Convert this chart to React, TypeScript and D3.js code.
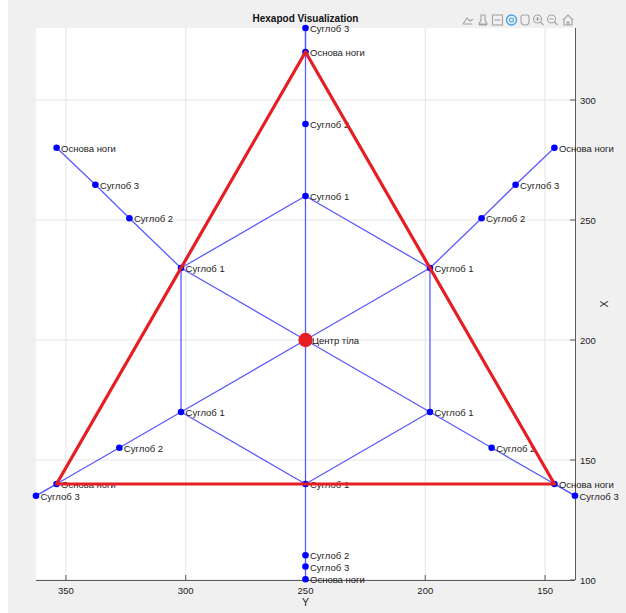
import React from 'react';
import * as d3 from 'd3';

const W = 626;
const H = 613;
const box = { left: 36, right: 575, top: 28, bottom: 580 };

// Horizontal axis shows body Y (reversed), vertical axis shows body X
const yLimits = [362.5, 137.5];
const xLimits = [100, 330];
const yTicks = [350, 300, 250, 200, 150];
const xTicks = [100, 150, 200, 250, 300];

const titleText = 'Hexapod Visualization';
const centerLabel = 'Центр тіла';
const bodyCenterY = 250;
const bodyCenterX = 200;

// Six legs: top, upper right, lower right, bottom, lower left, upper left
const joint1Y = [250, 198.04, 198.04, 250, 301.96, 301.96];
const joint1X = [260, 230, 170, 140, 170, 230];
const joint2Y = [250, 176.5, 172.3, 250, 327.7, 323.5];
const joint2X = [290, 250.7, 155.1, 110.3, 155.1, 250.7];
const joint3Y = [250, 162.3, 137.5, 250, 362.5, 337.7];
const joint3X = [330, 264.7, 135.1, 105.6, 135.1, 264.7];
const baseY = [250, 146.1, 146.08, 250, 353.92, 353.9];
const baseX = [320, 280.1, 140, 100.3, 140, 280.1];

const joint1Label = 'Суглоб 1';
const joint2Label = 'Суглоб 2';
const joint3Label = 'Суглоб 3';
const baseLabel = 'Основа ноги';

// Support triangle through the bases of legs 0, 2 and 4
const triangleLegs = [0, 2, 4];

const FONT = '"Liberation Sans", Arial, Helvetica, sans-serif';
const BLUE_LINE = '#5a5aff';
const BLUE = '#0000ff';
const RED = '#e41e22';
const AXIS = '#5a5a5a';
const GRID = '#e4e4e4';
const TEXT = '#222222';

type Pt = [number, number];

function ToolbarIcons() {
  const c = '#a3a3a3';
  const cy = 20;
  const xs = [468, 483, 497.5, 511.5, 525, 538.5, 552.5, 568];
  return (
    <g fill="none" stroke={c} strokeWidth={1.1}>
      {/* brush */}
      <path d={`M${xs[0] - 5},${cy + 4} L${xs[0] - 1},${cy - 2} L${xs[0] + 2},${cy + 1} L${xs[0] + 5},${cy - 1} M${xs[0] - 5},${cy + 4} L${xs[0] + 4},${cy + 4}`} />
      {/* data tip */}
      <path d={`M${xs[1] - 2},${cy - 5} L${xs[1] + 2},${cy - 5} L${xs[1] + 2},${cy} L${xs[1] + 4},${cy + 4} L${xs[1] - 4},${cy + 4} L${xs[1] - 2},${cy} Z M${xs[1] - 4},${cy + 5} L${xs[1] + 4},${cy + 5}`} />
      {/* pan-to-fit box */}
      <rect x={xs[2] - 5} y={cy - 5} width={10} height={10} />
      <path d={`M${xs[2] - 3},${cy} L${xs[2] + 3},${cy}`} />
      {/* rotate (active) */}
      <circle cx={xs[3]} cy={cy} r={5} stroke="#4ba3e6" strokeWidth={1.4} />
      <circle cx={xs[3]} cy={cy} r={2} stroke="#4ba3e6" />
      {/* hand */}
      <path d={`M${xs[4] - 4},${cy + 1} L${xs[4] - 4},${cy - 3} Q${xs[4] - 4},${cy - 5} ${xs[4] - 2},${cy - 5} L${xs[4] + 2},${cy - 5} Q${xs[4] + 4},${cy - 5} ${xs[4] + 4},${cy - 3} L${xs[4] + 4},${cy + 2} Q${xs[4] + 4},${cy + 5} ${xs[4]},${cy + 5} Q${xs[4] - 4},${cy + 5} ${xs[4] - 4},${cy + 1} Z`} />
      {/* zoom in */}
      <circle cx={xs[5] - 1} cy={cy - 1} r={4} />
      <path d={`M${xs[5] + 2},${cy + 2} L${xs[5] + 5},${cy + 5} M${xs[5] - 3},${cy - 1} L${xs[5] + 1},${cy - 1} M${xs[5] - 1},${cy - 3} L${xs[5] - 1},${cy + 1}`} />
      {/* zoom out */}
      <circle cx={xs[6] - 1} cy={cy - 1} r={4} />
      <path d={`M${xs[6] + 2},${cy + 2} L${xs[6] + 5},${cy + 5} M${xs[6] - 3},${cy - 1} L${xs[6] + 1},${cy - 1}`} />
      {/* home */}
      <path d={`M${xs[7] - 5},${cy} L${xs[7]},${cy - 5} L${xs[7] + 5},${cy} M${xs[7] - 4},${cy - 1} L${xs[7] - 4},${cy + 5} L${xs[7] + 4},${cy + 5} L${xs[7] + 4},${cy - 1} M${xs[7] - 1},${cy + 5} L${xs[7] - 1},${cy + 2} L${xs[7] + 1},${cy + 2} L${xs[7] + 1},${cy + 5}`} />
    </g>
  );
}

export default function App() {
  const sx = d3.scaleLinear().domain(yLimits).range([box.left, box.right]);
  const sy = d3.scaleLinear().domain(xLimits).range([box.bottom, box.top]);

  const legIdx = d3.range(joint1Y.length);
  const center: Pt = [bodyCenterY, bodyCenterX];
  const j1: Pt[] = legIdx.map((i) => [joint1Y[i], joint1X[i]]);
  const j2: Pt[] = legIdx.map((i) => [joint2Y[i], joint2X[i]]);
  const j3: Pt[] = legIdx.map((i) => [joint3Y[i], joint3X[i]]);
  const bases: Pt[] = legIdx.map((i) => [baseY[i], baseX[i]]);

  // Every blue link as a separate segment: hexagon edges, spokes, leg chains
  const segments: [Pt, Pt][] = [];
  legIdx.forEach((i) => {
    segments.push([j1[i], j1[(i + 1) % j1.length]]);
    segments.push([center, j1[i]]);
    segments.push([j1[i], j2[i]]);
    segments.push([j2[i], j3[i]]);
    segments.push([j3[i], bases[i]]);
  });

  const triangleLine = d3
    .line<Pt>()
    .x((d) => sx(d[0]))
    .y((d) => sy(d[1]))
    .curve(d3.curveLinearClosed);
  const triangle: Pt[] = triangleLegs.map((i) => bases[i]);

  const points: { p: Pt; label: string }[] = [];
  legIdx.forEach((i) => {
    points.push({ p: j1[i], label: joint1Label });
    points.push({ p: j2[i], label: joint2Label });
    points.push({ p: j3[i], label: joint3Label });
    points.push({ p: bases[i], label: baseLabel });
  });

  return (
    <svg
      width={W}
      height={H}
      style={{ position: 'absolute', left: 0, top: 0, display: 'block' }}
      fontFamily={FONT}
    >
      <rect x={0} y={0} width={W} height={H} fill="#ffffff" />
      <rect x={8} y={0} width={W - 8} height={H} fill="#f0f0f0" />
      <rect
        x={box.left}
        y={box.top}
        width={box.right - box.left}
        height={box.bottom - box.top}
        fill="#ffffff"
      />

      {/* grid */}
      <g stroke={GRID} strokeWidth={1}>
        {yTicks.map((t) => (
          <line key={`gv${t}`} x1={sx(t)} x2={sx(t)} y1={box.top} y2={box.bottom} />
        ))}
        {xTicks.map((t) => (
          <line key={`gh${t}`} x1={box.left} x2={box.right} y1={sy(t)} y2={sy(t)} />
        ))}
      </g>

      {/* axes */}
      <g stroke={AXIS} strokeWidth={1} fill="none">
        <line x1={box.left} x2={box.right} y1={box.bottom + 0.5} y2={box.bottom + 0.5} />
        <line x1={box.right + 0.5} x2={box.right + 0.5} y1={box.top} y2={box.bottom} />
        {yTicks.map((t) => (
          <line key={`tb${t}`} x1={sx(t)} x2={sx(t)} y1={box.bottom} y2={box.bottom - 5} />
        ))}
        {xTicks.map((t) => (
          <line key={`tr${t}`} x1={box.right} x2={box.right - 5} y1={sy(t)} y2={sy(t)} />
        ))}
      </g>
      <g fontSize={9.5} fill={TEXT}>
        {yTicks.map((t) => (
          <text key={`lb${t}`} x={sx(t)} y={box.bottom + 14} textAnchor="middle">
            {t}
          </text>
        ))}
        {xTicks.map((t) => (
          <text key={`lr${t}`} x={box.right + 5} y={sy(t)} dominantBaseline="central">
            {t}
          </text>
        ))}
      </g>
      <text x={(box.left + box.right) / 2} y={606} textAnchor="middle" fontSize={10.5} fill={TEXT}>
        Y
      </text>
      <text
        transform={`translate(604,${(box.top + box.bottom) / 2}) rotate(-90)`}
        textAnchor="middle"
        dominantBaseline="central"
        fontSize={10.5}
        fill={TEXT}
      >
        X
      </text>

      <text
        x={(box.left + box.right) / 2}
        y={22}
        textAnchor="middle"
        fontSize={10}
        fontWeight="bold"
        fill="#111"
      >
        {titleText}
      </text>
      <ToolbarIcons />

      {/* body and legs */}
      <g stroke={BLUE_LINE} strokeWidth={1.3} strokeLinecap="butt">
        {segments.map(([a, b], i) => (
          <line key={`seg${i}`} x1={sx(a[0])} y1={sy(a[1])} x2={sx(b[0])} y2={sy(b[1])} />
        ))}
      </g>
      <g fill={BLUE}>
        {points.map((d, i) => (
          <circle key={`p${i}`} cx={sx(d.p[0])} cy={sy(d.p[1])} r={3.3} />
        ))}
      </g>
      <g fontSize={9.5} fill={TEXT}>
        {points.map((d, i) => (
          <text key={`t${i}`} x={sx(d.p[0]) + 4.5} y={sy(d.p[1]) + 0.5} dominantBaseline="central">
            {d.label}
          </text>
        ))}
        <text x={sx(center[0]) + 6.5} y={sy(center[1]) + 0.5} dominantBaseline="central">
          {centerLabel}
        </text>
      </g>

      {/* support triangle */}
      <path
        d={triangleLine(triangle) || ''}
        fill="none"
        stroke={RED}
        strokeWidth={3.2}
        strokeLinejoin="round"
      />
      <circle cx={sx(center[0])} cy={sy(center[1])} r={7.2} fill={RED} />
    </svg>
  );
}
